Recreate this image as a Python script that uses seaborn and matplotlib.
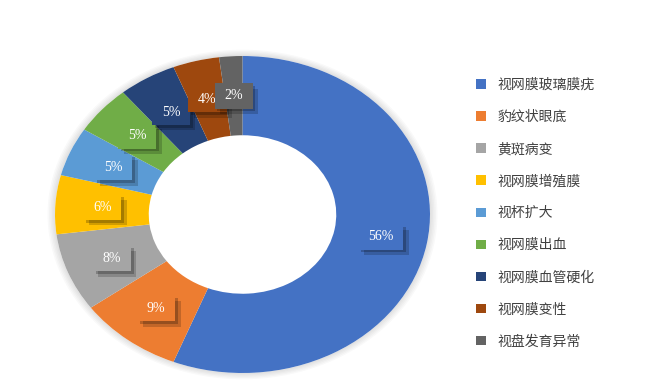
import matplotlib
matplotlib.use('Agg')
import matplotlib.pyplot as plt
import matplotlib.patheffects as pe
from matplotlib.patches import Patch, Circle
from matplotlib.path import Path
import seaborn as sns

sns.set_theme(style='white')
plt.rcParams['font.family'] = ['Noto Sans CJK SC', 'DejaVu Sans']

categories = ['视网膜玻璃膜疣', '豹纹状眼底', '黄斑病变', '视网膜增殖膜', '视杯扩大',
              '视网膜出血', '视网膜血管硬化', '视网膜变性', '视盘发育异常']
values = [56, 9, 8, 6, 5, 5, 5, 4, 2]
colors = ['#4472C4', '#ED7D31', '#A5A5A5', '#FFC000', '#5B9BD5',
          '#70AD47', '#264478', '#9E480E', '#636363']

W, H = 648, 387
fig = plt.figure(figsize=(W / 100, H / 100), dpi=100)
fig.patch.set_facecolor('white')
ax = fig.add_axes([55 / W, (H - 373) / H, 375 / W, 317 / H])

wedges, texts, autotexts = ax.pie(
    values, colors=colors, startangle=90, counterclock=False,
    wedgeprops=dict(width=0.5, linewidth=0),
    autopct=lambda p: f'{p:.0f}%', pctdistance=0.75)
ax.set_aspect('auto')
ax.set_xlim(-1, 1)
ax.set_ylim(-1, 1)
ax.axis('off')

# soft outer glow of the ring
for k in range(1, 6):
    ax.add_patch(Circle((0, 0), 1 + 0.008 * k, fc='#000000', ec='none',
                        alpha=0.025, zorder=0, clip_on=False))
ax.add_patch(Circle((0, 0), 1.0, fc='white', ec='none', zorder=0.5, clip_on=False))


def label_box(x0, y0, width, height, mutation_size):
    padx = 0.7 * mutation_size
    pady = 0.45 * mutation_size
    x1, y1 = x0 + width + padx, y0 + height + pady
    xa, ya = x0 - padx, y0 - pady
    return Path([(xa, ya), (x1, ya), (x1, y1), (xa, y1), (xa, ya)], closed=True)


for i, (t, c) in enumerate(zip(autotexts, colors)):
    t.set_color('white')
    t.set_fontfamily(['Liberation Serif', 'DejaVu Serif'])
    t.set_fontsize(10)
    t.set_zorder(4 + 0.1 * i)
    t.set_bbox(dict(boxstyle=label_box, fc=c, ec='none'))
    t.get_bbox_patch().set_path_effects([
        pe.SimplePatchShadow(offset=(2, -2), shadow_rgbFace='black', alpha=0.22),
        pe.SimplePatchShadow(offset=(4, -4), shadow_rgbFace='black', alpha=0.18),
        pe.Normal()])

handles = [Patch(facecolor=c, edgecolor='none') for c in colors]
fig.legend(handles, categories, loc='upper left', bbox_to_anchor=(476 / W, 1 - 78 / H),
           frameon=False, fontsize=10, handlelength=0.75, handleheight=0.7,
           handletextpad=0.8, labelspacing=1.3, borderpad=0, borderaxespad=0,
           labelcolor='#404040')

fig.savefig('out.png', dpi=100, facecolor='white')
